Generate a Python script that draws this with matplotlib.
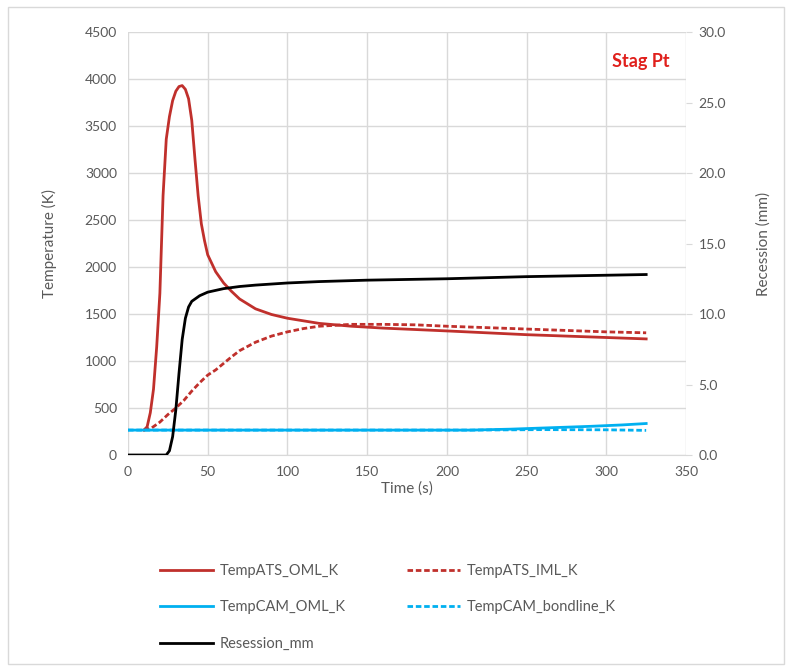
import matplotlib.pyplot as plt
from matplotlib.patches import Rectangle

# stagnation point thermal response
t_ats_oml = [10, 12, 14, 16, 18, 20, 22, 24, 26, 28, 30, 32, 34, 36, 38, 40,
             42, 44, 46, 48, 50, 55, 60, 65, 70, 80, 90, 100, 120, 140, 160,
             180, 200, 225, 250, 275, 300, 325]
temp_ats_oml = [265, 300, 450, 700, 1150, 1720, 2760, 3360, 3600, 3770, 3870,
                3920, 3930, 3890, 3790, 3560, 3150, 2760, 2460, 2280, 2130,
                1950, 1830, 1740, 1660, 1555, 1495, 1455, 1400, 1370, 1350,
                1335, 1320, 1300, 1280, 1265, 1250, 1235]

t_ats_iml = [10, 15, 20, 25, 30, 35, 40, 45, 50, 55, 60, 65, 70, 80, 90, 100,
             110, 120, 140, 160, 180, 200, 225, 250, 275, 300, 325]
temp_ats_iml = [265, 290, 350, 430, 500, 580, 680, 770, 850, 905, 975, 1045,
                1110, 1200, 1265, 1310, 1345, 1370, 1390, 1390, 1385, 1370,
                1355, 1340, 1325, 1310, 1300]

t_cam_oml = [0, 215, 240, 265, 290, 310, 325]
temp_cam_oml = [265, 265, 275, 290, 305, 320, 335]

t_cam_bond = [0, 215, 260, 300, 325]
temp_cam_bond = [265, 265, 270, 268, 262]

t_rec = [0, 24, 26, 28, 30, 32, 34, 36, 38, 40, 45, 50, 60, 70, 80, 100, 120,
         150, 200, 250, 300, 325]
recession = [0, 0, 0.3, 1.3, 3.2, 5.8, 8.2, 9.7, 10.5, 10.9, 11.3, 11.55,
             11.8, 11.95, 12.05, 12.2, 12.3, 12.4, 12.5, 12.65, 12.75, 12.8]

RED = "#C0302C"
CYAN = "#00B0F0"
GREY = "#595959"

plt.rcParams['font.family'] = ['Lato', 'DejaVu Sans']
plt.rcParams['font.size'] = 10

fig = plt.figure(figsize=(7.92, 6.71), dpi=100)
ax = fig.add_axes([0.1616, 0.3219, 0.7046, 0.6304])
ax2 = ax.twinx()

l1, = ax.plot(t_ats_oml, temp_ats_oml, color=RED, lw=2, label="TempATS_OML_K")
l2, = ax.plot(t_ats_iml, temp_ats_iml, color=RED, lw=2, ls=(0, (2, 1)),
              label="TempATS_IML_K")
l3, = ax.plot(t_cam_oml, temp_cam_oml, color=CYAN, lw=2, label="TempCAM_OML_K")
l4, = ax.plot(t_cam_bond, temp_cam_bond, color=CYAN, lw=2, ls=(0, (2, 1)),
              label="TempCAM_bondline_K")
l5, = ax2.plot(t_rec, recession, color="black", lw=2, label="Resession_mm")

ax.set_xlim(0, 350)
ax.set_ylim(0, 4500)
ax2.set_ylim(0, 30)
ax.set_xticks(range(0, 351, 50))
ax.set_yticks(range(0, 4501, 500))
ax2.set_yticks([0, 5, 10, 15, 20, 25, 30])
ax2.set_yticklabels([f"{v:.1f}" for v in [0, 5, 10, 15, 20, 25, 30]])

ax.grid(True, color="#D9D9D9", lw=1)
ax.set_axisbelow(True)
for a in (ax, ax2):
    for s in a.spines.values():
        s.set_visible(False)
ax.spines['bottom'].set_visible(True)
ax.spines['bottom'].set_color("#D9D9D9")
ax.tick_params(axis='both', length=0, colors=GREY, labelsize=10, pad=8)
ax2.tick_params(axis='y', length=4, color="#D9D9D9", labelcolor=GREY,
                labelsize=10, pad=5)

ax.set_xlabel("Time (s)", color=GREY, fontsize=11, labelpad=2)
ax.set_ylabel("Temperature (K)", color=GREY, fontsize=11, labelpad=20)
ax2.set_ylabel("Recession (mm)", color=GREY, fontsize=11, labelpad=22)

ax.text(0.97, 0.93, "Stag Pt", transform=ax.transAxes, ha="right", va="center",
        color="#E0201C", fontsize=13, fontweight="bold")

fig.legend(handles=[l1, l3, l5, l2, l4], loc="center", ncol=2,
           bbox_to_anchor=(0.49, 0.095), frameon=False, fontsize=10.5,
           labelcolor=GREY, handlelength=3.6, handletextpad=0.5,
           columnspacing=4.2, labelspacing=1.55)

fig.patches.append(Rectangle((0.01, 0.01), 0.98, 0.98, transform=fig.transFigure,
                             fill=False, ec="#D9D9D9", lw=1))

fig.savefig("out.png", dpi=100)
